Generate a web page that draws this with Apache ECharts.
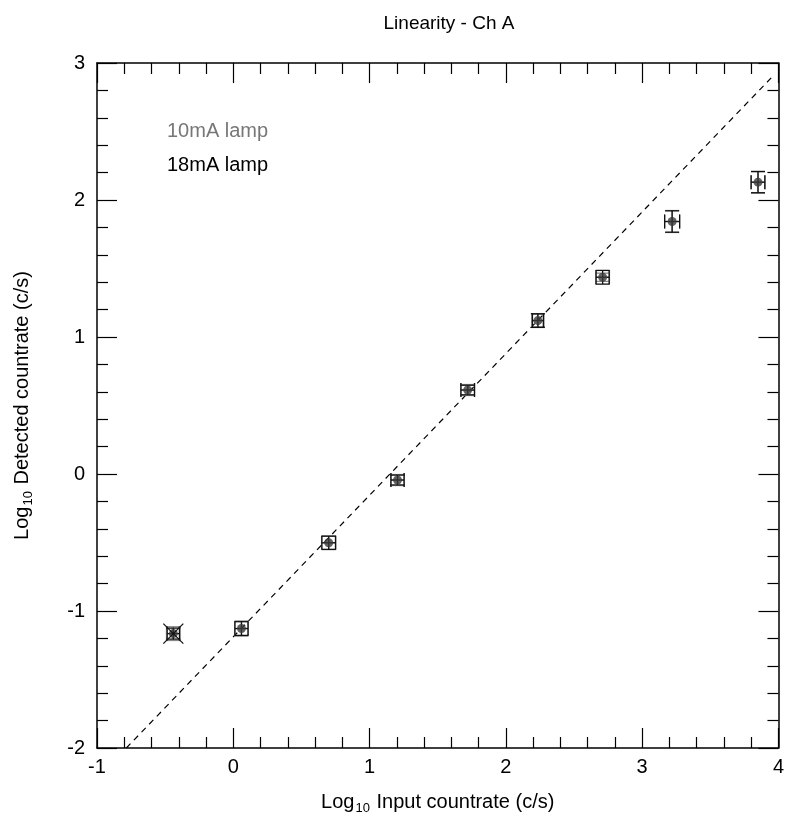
<!DOCTYPE html>
<html>
<head>
<meta charset="utf-8">
<title>Linearity - Ch A</title>
<script src="https://cdn.jsdelivr.net/npm/echarts@6/dist/echarts.min.js"></script>
<style>
html, body { margin: 0; padding: 0; background: #fff; }
#chart { width: 787px; height: 820px; }
</style>
</head>
<body>
<div id="chart"></div>
<script>
// log10 input / detected countrate
var inputLog = [-0.44, 0.06, 0.70, 1.205, 1.72, 2.235, 2.71, 3.22, 3.85];
var detLog = [-1.165, -1.128, -0.502, -0.044, 0.613, 1.12, 1.436, 1.843, 2.13];
// 18mA lamp errors
var xErr18 = [0.045, 0.048, 0.05, 0.048, 0.05, 0.04, 0.048, 0.055, 0.05];
var yErr18 = [0.04, 0.05, 0.048, 0.036, 0.035, 0.05, 0.05, 0.078, 0.077];
// 10mA lamp errors
var xErr10 = [0.05, 0.05, 0.052, 0.05, 0.05, 0.045, 0.05, 0.055, 0.052];
var yErr10 = [0.05, 0.055, 0.05, 0.04, 0.04, 0.045, 0.03, 0.08, 0.08];
// flagged point (crossed out)
var flagged = [[-0.44, -1.165]];
// dashed fit line end points
var fitLine = [[-0.785, -2], [3.96, 2.905]];
var xTicks = [-1, 0, 1, 2, 3, 4];
var yTicks = [-2, -1, 0, 1, 2, 3];

var font = '"Liberation Sans", Arial, Helvetica, sans-serif';

function errData(xe, ye) {
	var out = [];
	for(var i = 0; i < inputLog.length; i++) {
		out.push([inputLog[i], detLog[i], xe[i], ye[i]]);
	}
	return out;
}

function errRender(color) {
	return function(params, api) {
		var x = api.value(0), y = api.value(1), ex = api.value(2), ey = api.value(3);
		var c = api.coord([x, y]);
		var l = api.coord([x - ex, y]), r = api.coord([x + ex, y]);
		var t = api.coord([x, y + ey]), b = api.coord([x, y - ey]);
		var cap = 7;
		var st = { stroke: color, lineWidth: 1.3 };
		var segs = [
			[l[0], c[1], r[0], c[1]],
			[c[0], t[1], c[0], b[1]],
			[l[0], c[1] - cap, l[0], c[1] + cap],
			[r[0], c[1] - cap, r[0], c[1] + cap],
			[c[0] - cap, t[1], c[0] + cap, t[1]],
			[c[0] - cap, b[1], c[0] + cap, b[1]]
		];
		var children = [];
		for(var i = 0; i < segs.length; i++) {
			children.push({ type: 'line', shape: { x1: segs[i][0], y1: segs[i][1], x2: segs[i][2], y2: segs[i][3] }, style: st });
		}
		return { type: 'group', children: children };
	};
}

function subName(txt) {
	return '{a|Log}{s|10}{a| ' + txt + '}';
}
var nameRich = {
	a: { fontSize: 20, fontFamily: font, color: '#000' },
	s: { fontSize: 13, fontFamily: font, color: '#000', padding: [12, 1, 0, 1] }
};

var axisBase = {
	type: 'value',
	axisLine: { show: true, onZero: false, lineStyle: { color: '#000', width: 1.5 } },
	axisTick: { show: true, inside: true, length: 20, lineStyle: { color: '#000', width: 1.2 } },
	minorTick: { show: true, splitNumber: 5, length: 11, lineStyle: { color: '#000', width: 1.2 } },
	splitLine: { show: false },
	minorSplitLine: { show: false }
};

function mkAxis(extra) {
	var o = JSON.parse(JSON.stringify(axisBase));
	for(var k in extra) o[k] = extra[k];
	return o;
}

var myChart = echarts.init(document.getElementById('chart'));
var option = {
	backgroundColor: '#fff',
	animation: false,
	title: {
		text: 'Linearity - Ch A',
		left: 444,
		top: 9,
		textAlign: 'center',
		textStyle: { fontSize: 19, fontWeight: 'normal', fontFamily: font, color: '#000' }
	},
	grid: { left: 97, top: 63, right: 4, bottom: 70 },
	xAxis: [
		mkAxis({
			position: 'bottom', min: xTicks[0], max: xTicks[xTicks.length - 1], interval: 1,
			name: subName('Input countrate (c/s)'), nameLocation: 'middle', nameGap: 42,
			nameTextStyle: { rich: nameRich },
			axisLabel: { fontSize: 20, fontFamily: font, color: '#000', margin: 9 }
		}),
		mkAxis({
			position: 'top', min: xTicks[0], max: xTicks[xTicks.length - 1], interval: 1,
			axisLabel: { show: false }
		})
	],
	yAxis: [
		mkAxis({
			position: 'left', min: yTicks[0], max: yTicks[yTicks.length - 1], interval: 1,
			name: subName('Detected countrate (c/s)'), nameLocation: 'middle', nameGap: 62, nameRotate: 90,
			nameTextStyle: { rich: nameRich },
			axisLabel: { fontSize: 20, fontFamily: font, color: '#000', margin: 12 }
		}),
		mkAxis({
			position: 'right', min: yTicks[0], max: yTicks[yTicks.length - 1], interval: 1,
			axisLabel: { show: false }
		})
	],
	graphic: [
		{ type: 'text', left: 167, top: 121, style: { text: '10mA lamp', fontSize: 20, fontFamily: font, fill: '#777' } },
		{ type: 'text', left: 167, top: 155, style: { text: '18mA lamp', fontSize: 20, fontFamily: font, fill: '#000' } }
	],
	series: [
		{
			name: 'fit',
			type: 'line',
			data: fitLine,
			symbol: 'none',
			lineStyle: { color: '#000', width: 1.2, type: [6, 5] },
			z: 1
		},
		{
			name: '10mA lamp',
			type: 'custom',
			data: errData(xErr10, yErr10),
			renderItem: errRender('#888'),
			z: 2
		},
		{
			name: '18mA lamp',
			type: 'custom',
			data: errData(xErr18, yErr18),
			renderItem: errRender('#111'),
			z: 3
		},
		{
			name: 'points',
			type: 'scatter',
			data: errData(xErr18, yErr18),
			symbol: 'circle',
			symbolSize: 9,
			itemStyle: { color: '#3a3a3a' },
			z: 4
		},
		{
			name: 'flagged',
			type: 'custom',
			data: flagged,
			renderItem: function(params, api) {
				var c = api.coord([api.value(0), api.value(1)]);
				var d = 10;
				var st = { stroke: '#111', lineWidth: 1.3 };
				return { type: 'group', children: [
					{ type: 'line', shape: { x1: c[0] - d, y1: c[1] - d, x2: c[0] + d, y2: c[1] + d }, style: st },
					{ type: 'line', shape: { x1: c[0] - d, y1: c[1] + d, x2: c[0] + d, y2: c[1] - d }, style: st }
				] };
			},
			z: 5
		}
	]
};
myChart.setOption(option);
window.onresize = myChart.resize;
</script>
</body>
</html>
